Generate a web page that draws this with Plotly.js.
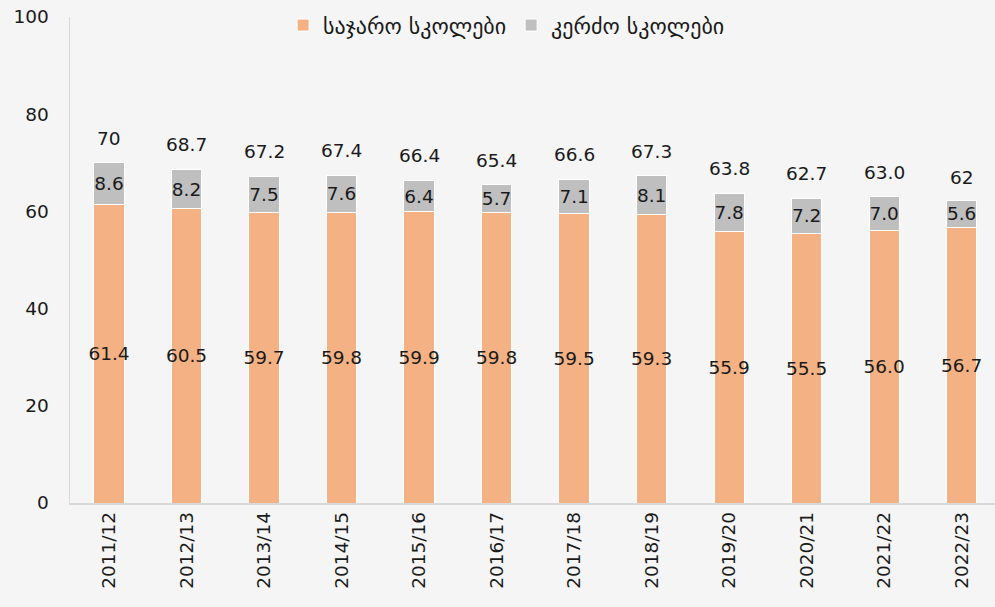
<!DOCTYPE html>
<html>
<head>
<meta charset="utf-8">
<script src="https://cdn.plot.ly/plotly-3.0.1.min.js"></script>
<style>html,body{margin:0;padding:0;background:#F5F5F5;}</style>
</head>
<body>
<div id="chart" style="width:995px;height:607px;"></div>
<script>
const years = ["2011/12","2012/13","2013/14","2014/15","2015/16","2016/17","2017/18","2018/19","2019/20","2020/21","2021/22","2022/23"];
const publicSchools = [61.4,60.5,59.7,59.8,59.9,59.8,59.5,59.3,55.9,55.5,56.0,56.7];
const publicLabels = ["61.4","60.5","59.7","59.8","59.9","59.8","59.5","59.3","55.9","55.5","56.0","56.7"];
const privateSchools = [8.6,8.2,7.5,7.6,6.4,5.7,7.1,8.1,7.8,7.2,7.0,5.6];
const privateLabels = ["8.6","8.2","7.5","7.6","6.4","5.7","7.1","8.1","7.8","7.2","7.0","5.6"];
const totals = [70,68.7,67.2,67.4,66.4,65.4,66.6,67.3,63.8,62.7,63.0,62];
const totalLabels = ["70","68.7","67.2","67.4","66.4","65.4","66.6","67.3","63.8","62.7","63.0","62"];
const seriesNames = ["საჯარო სკოლები","კერძო სკოლები"];

const FONT = "DejaVu Sans, sans-serif";
const FS = 18.5;
const TXT = "#1a1a1a";
const idx = years.map((_, i) => i);

const traces = [
  {
    type: "bar", x: idx, y: publicSchools, name: seriesNames[0],
    marker: {color: "#F4B183", line: {color: "#FFFFFF", width: 1}},
    width: 0.39,
    text: publicLabels, textposition: "inside", insidetextanchor: "middle",
    textangle: 0, constraintext: "none",
    textfont: {family: FONT, size: FS, color: TXT},
    hoverinfo: "skip"
  },
  {
    type: "bar", x: idx, y: privateSchools, name: seriesNames[1],
    marker: {color: "#BFBFBF", line: {color: "#FFFFFF", width: 1}},
    width: 0.39,
    text: privateLabels, textposition: "inside", insidetextanchor: "middle",
    textangle: 0, constraintext: "none",
    textfont: {family: FONT, size: FS, color: TXT},
    hoverinfo: "skip"
  }
];

const annotations = idx.map(i => ({
  x: i, y: totals[i], xref: "x", yref: "y",
  text: totalLabels[i], showarrow: false,
  yanchor: "bottom", yshift: 12,
  font: {family: FONT, size: FS, color: TXT}
}));

const layout = {
  width: 995, height: 607,
  paper_bgcolor: "#F5F5F5", plot_bgcolor: "#F5F5F5",
  margin: {l: 70, r: 0, t: 17, b: 104},
  barmode: "stack",
  font: {family: FONT, size: FS, color: TXT},
  showlegend: true,
  legend: {
    orientation: "h", traceorder: "normal",
    x: 0.472, xanchor: "center", y: 0.983, yanchor: "middle",
    font: {family: FONT, size: 22, color: TXT},
    bgcolor: "rgba(0,0,0,0)", itemwidth: 30, tracegroupgap: 0
  },
  xaxis: {
    range: [-0.503, 11.43],
    tickmode: "array", tickvals: idx, ticktext: years,
    tickangle: -90, showgrid: false, zeroline: false,
    showline: true, linecolor: "#D9D9D9", linewidth: 1.5,
    ticks: "", tickfont: {family: FONT, size: FS, color: TXT}
  },
  yaxis: {
    range: [0, 100], tickvals: [0,20,40,60,80,100],
    showgrid: false, zeroline: false,
    showline: true, linecolor: "#D9D9D9", linewidth: 1.5,
    ticks: "", ticklabelstandoff: 16,
    tickfont: {family: FONT, size: FS, color: TXT}
  },
  annotations: annotations
};

Plotly.newPlot("chart", traces, layout, {displayModeBar: false, staticPlot: true});
</script>
</body>
</html>
